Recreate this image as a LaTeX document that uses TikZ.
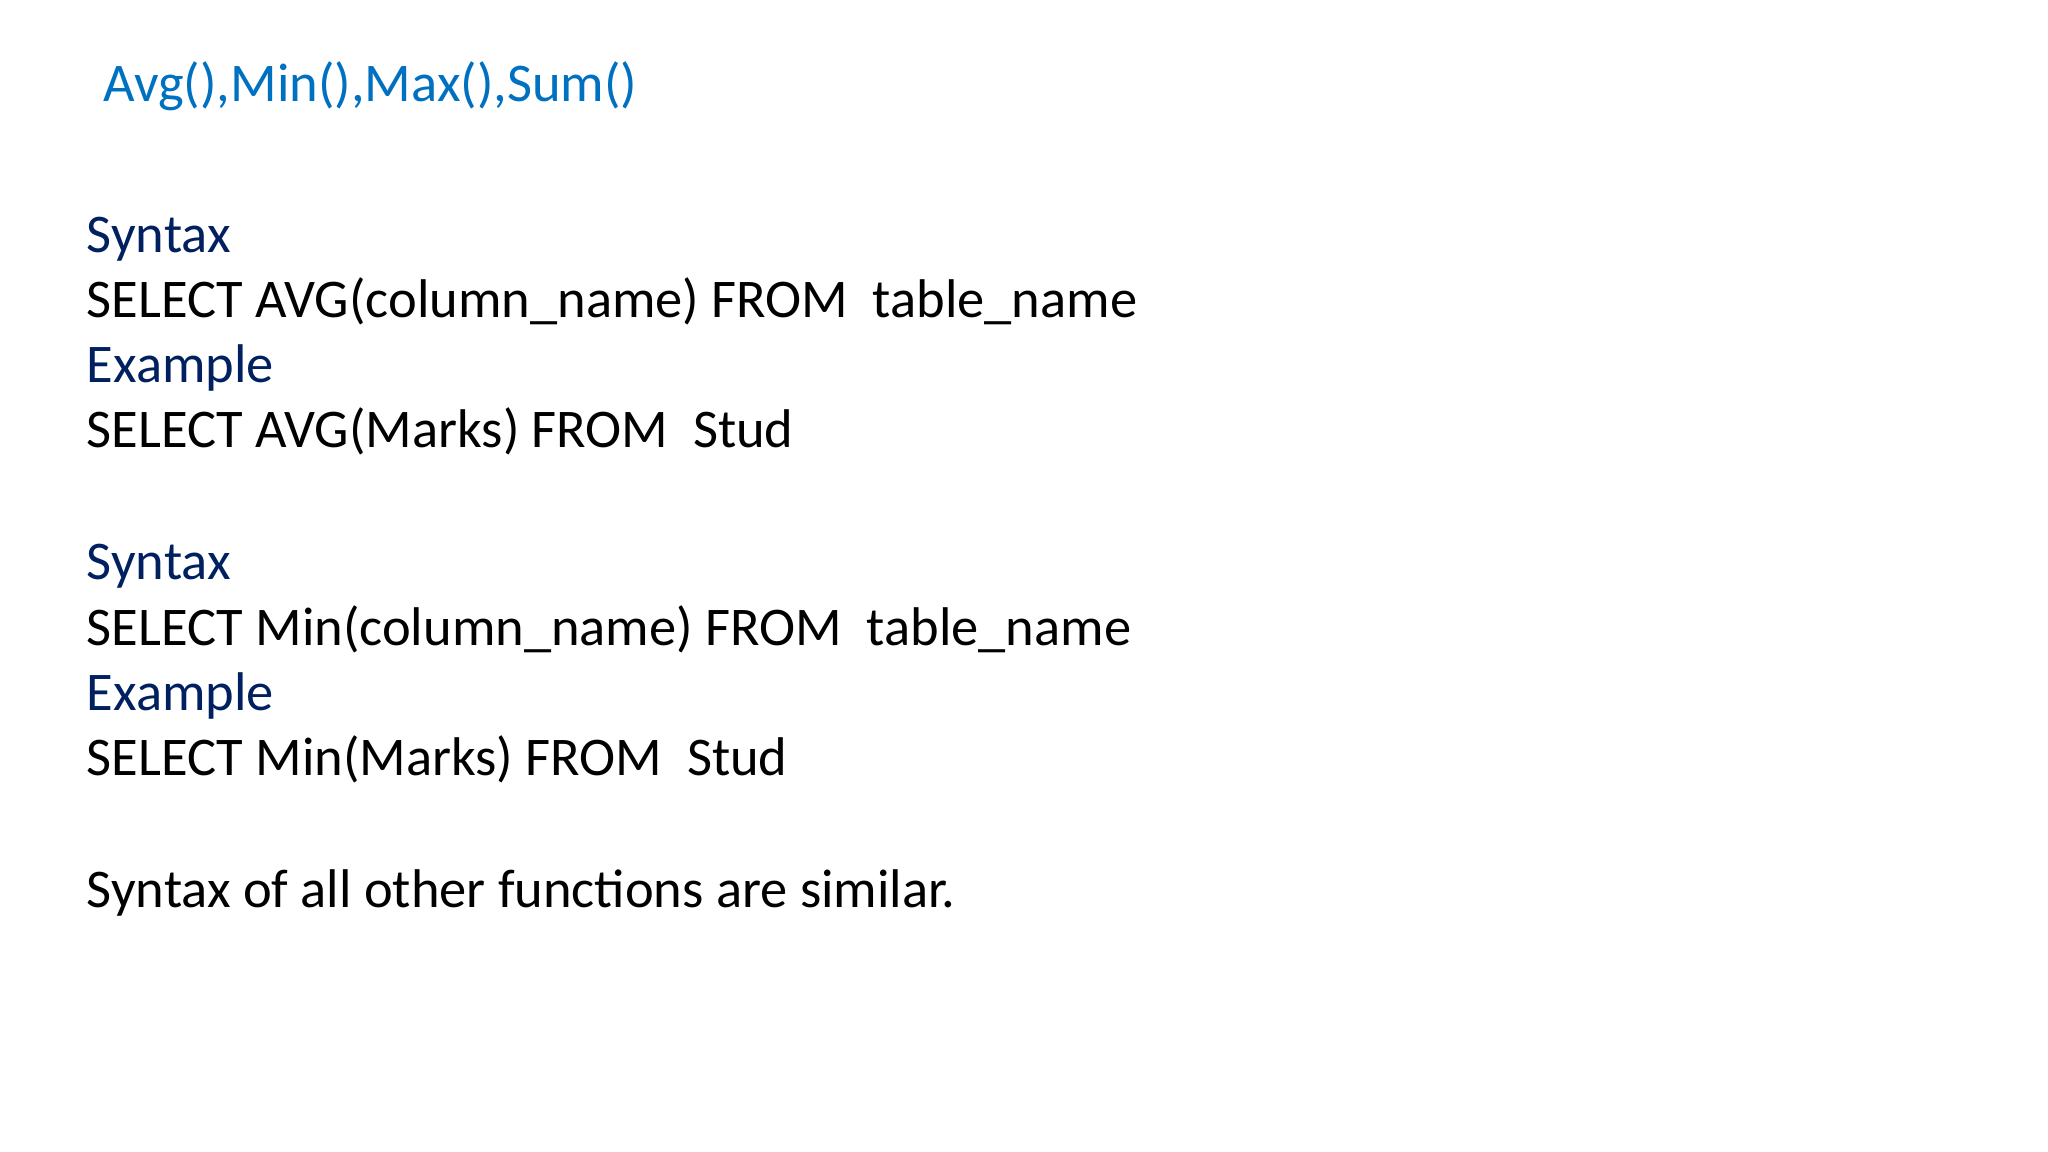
\documentclass[tikz,border=0pt]{standalone}
\usepackage{fontspec}
\setmainfont{Carlito}
\definecolor{titleblue}{HTML}{0070C0}
\definecolor{darkblue}{HTML}{002060}
\begin{document}
\begin{tikzpicture}[x=0.01306cm,y=-0.01306cm,
  txt/.style={anchor=base west,inner sep=0pt,font=\fontsize{15.5pt}{19pt}\selectfont,text=black},
  hd/.style={txt,text=darkblue},
  ttl/.style={anchor=base west,inner sep=0pt,font=\fontsize{15.5pt}{19pt}\selectfont,text=titleblue}]
\useasboundingbox (0,0) rectangle (1568,882);
\node[ttl] (title) at (79,78) {Avg(),Min(),Max(),Sum()};
\node[hd] (s1) at (66,193) {Syntax};
\node[txt] (l1) at (66,243) {SELECT AVG(column\_name) FROM\ \ table\_name};
\node[hd] (e1) at (66,293) {Example};
\node[txt] (l2) at (66,343) {SELECT AVG(Marks) FROM\ \ Stud};
\node[hd] (s2) at (66,444) {Syntax};
\node[txt] (l3) at (66,494) {SELECT Min(column\_name) FROM\ \ table\_name};
\node[hd] (e2) at (66,544) {Example};
\node[txt] (l4) at (66,594) {SELECT Min(Marks) FROM\ \ Stud};
\node[txt] (l5) at (66,695) {Syntax of all other functions are similar.};
\end{tikzpicture}
\end{document}
